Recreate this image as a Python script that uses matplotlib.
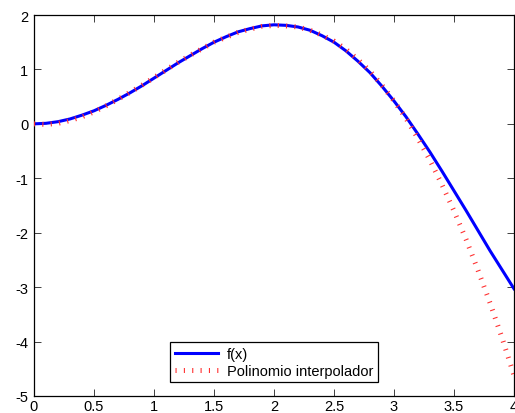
import matplotlib
matplotlib.use("Agg")
import matplotlib.pyplot as plt

plt.rcParams['font.family'] = ['Liberation Sans', 'DejaVu Sans']

# sample points
x = [0.0, 0.1, 0.2, 0.3, 0.4, 0.5, 0.6, 0.7, 0.8, 0.9,
     1.0, 1.1, 1.2, 1.3, 1.4, 1.5, 1.6, 1.7, 1.8, 1.9,
     2.0, 2.1, 2.2, 2.3, 2.4, 2.5, 2.6, 2.7, 2.8, 2.9,
     3.0, 3.1, 3.2, 3.3, 3.4, 3.5, 3.6, 3.7, 3.8, 3.9, 4.0]

# f(x)
fx = [0.00, 0.01, 0.04, 0.09, 0.16, 0.24, 0.34, 0.45, 0.57, 0.70,
      0.84, 0.98, 1.12, 1.25, 1.38, 1.50, 1.60, 1.69, 1.75, 1.80,
      1.82, 1.81, 1.78, 1.72, 1.62, 1.50, 1.34, 1.15, 0.94, 0.69,
      0.42, 0.13, -0.19, -0.52, -0.87, -1.23, -1.59, -1.96, -2.33, -2.68, -3.03]

# interpolating polynomial
px = [0.00, -0.01, 0.01, 0.06, 0.13, 0.22, 0.33, 0.45, 0.58, 0.71,
      0.85, 0.99, 1.13, 1.26, 1.38, 1.50, 1.59, 1.68, 1.74, 1.79,
      1.81, 1.80, 1.78, 1.72, 1.63, 1.52, 1.37, 1.18, 0.97, 0.71,
      0.42, 0.10, -0.27, -0.67, -1.12, -1.60, -2.12, -2.69, -3.29, -3.93, -4.62]

xticks = [0, 0.5, 1, 1.5, 2, 2.5, 3, 3.5, 4]
xticklabels = ['0', '0.5', '1', '1.5', '2', '2.5', '3', '3.5', '4']
yticks = [-5, -4, -3, -2, -1, 0, 1, 2]
yticklabels = ['-5', '-4', '-3', '-2', '-1', '0', '1', '2']

fig = plt.figure(figsize=(5.15, 4.14), dpi=100)
ax = fig.add_axes([34 / 515, 17 / 414, 480 / 515, 381 / 414])

ax.plot(x, fx, color='blue', linewidth=2.2, label='f(x)', zorder=2)
ax.plot(x, px, color='#ff3030', linewidth=3.6, linestyle=(0, (0.22, 1.45)),
        dash_capstyle='butt', label='Polinomio interpolador', zorder=3)

ax.set_xlim(0, 4)
ax.set_ylim(-5, 2)
ax.set_xticks(xticks)
ax.set_xticklabels(xticklabels)
ax.set_yticks(yticks)
ax.set_yticklabels(yticklabels)
ax.tick_params(direction='in', length=5, width=0.7, top=True, right=True,
               labelsize=10.5, color='#404040')
ax.tick_params(axis='x', pad=2.5)
ax.tick_params(axis='y', pad=4)
for s in ax.spines.values():
    s.set_linewidth(0.9)

leg = ax.legend(loc='lower center', fontsize=10.5, fancybox=False,
                framealpha=1, edgecolor='black', handlelength=3.0,
                borderaxespad=0.95, borderpad=0.3, labelspacing=0.2,
                handletextpad=0.6)
leg.get_frame().set_linewidth(0.9)

fig.savefig('out.png', dpi=100)
